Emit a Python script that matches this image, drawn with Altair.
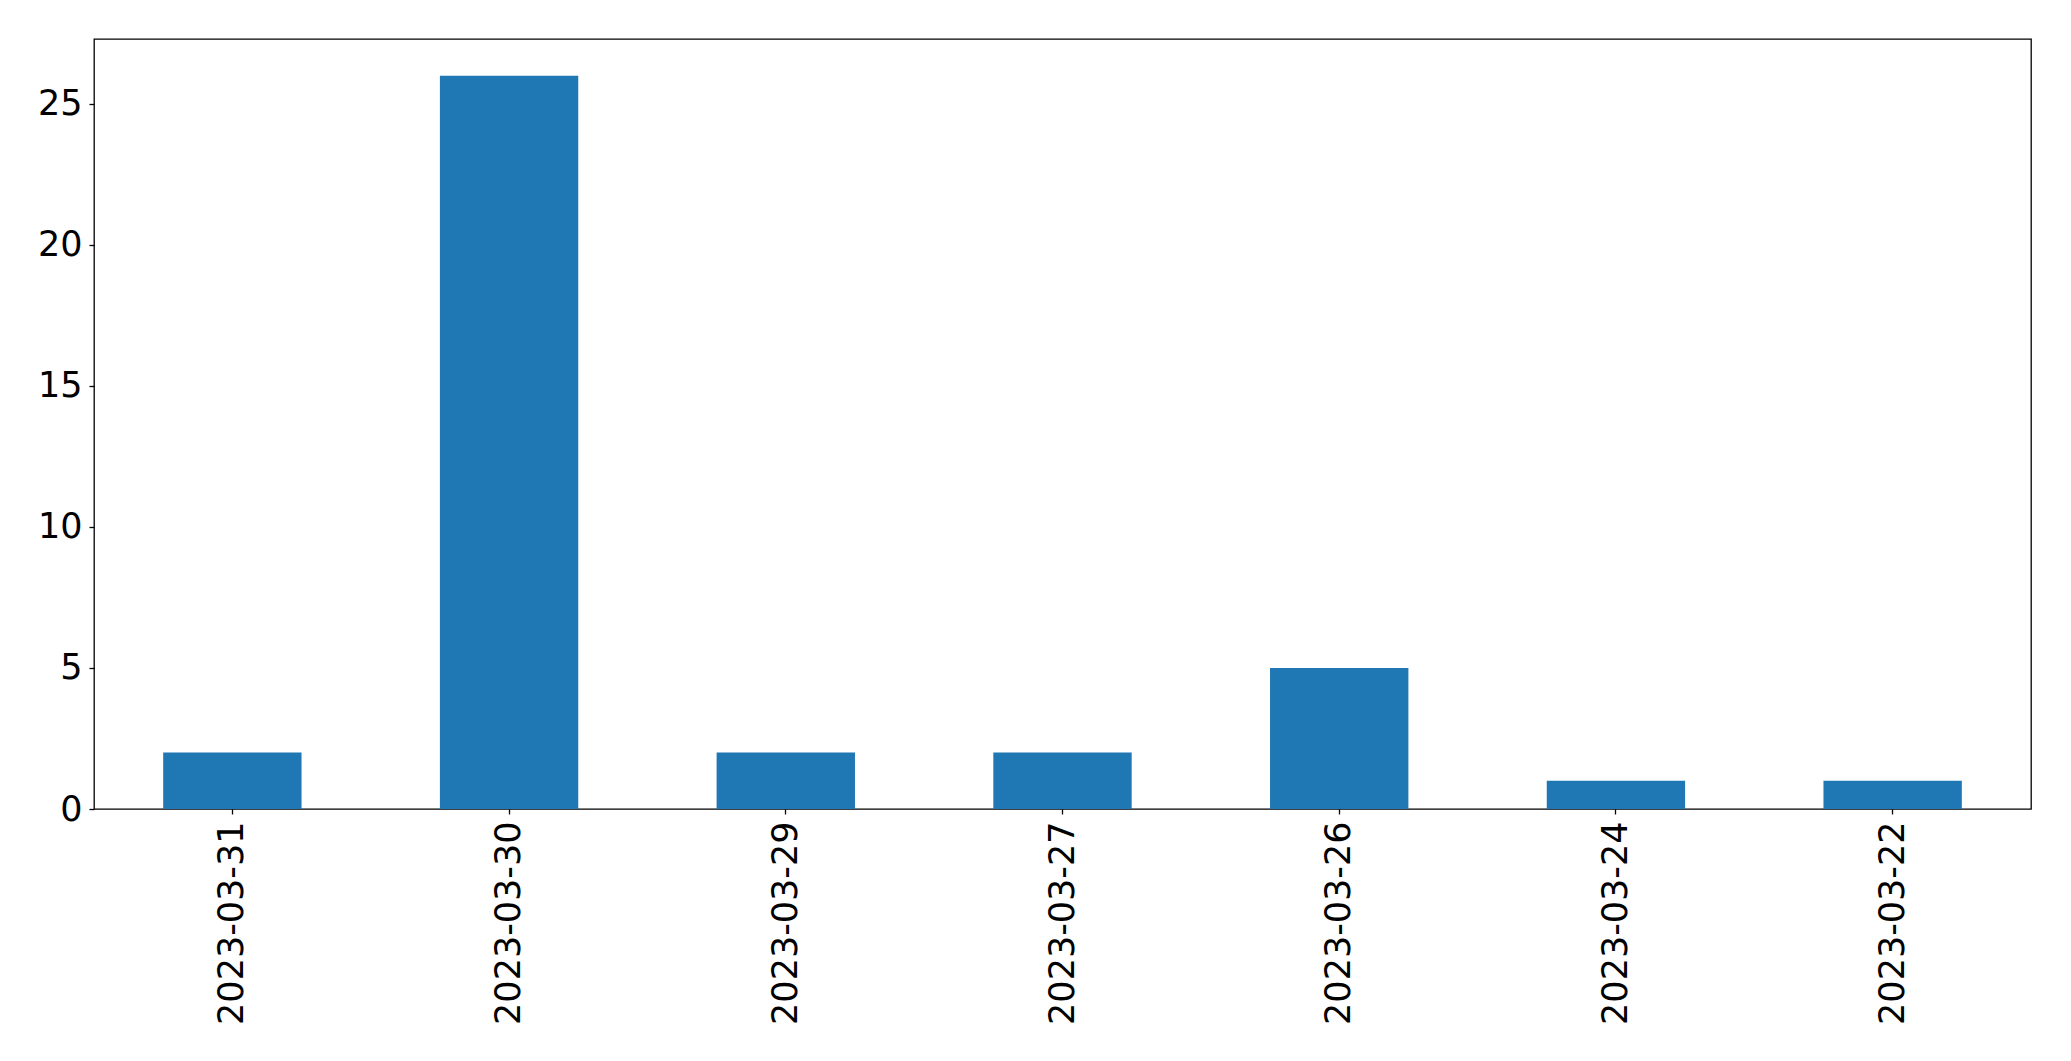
import altair as alt
import pandas as pd

dates = ["2023-03-31", "2023-03-30", "2023-03-29", "2023-03-27", "2023-03-26", "2023-03-24", "2023-03-22"]
counts = [2, 26, 2, 2, 5, 1, 1]

df = pd.DataFrame({"date": dates, "count": counts})

chart = alt.Chart(df).mark_bar(color="#1f77b4").encode(
    x=alt.X("date:N", sort=None, title=None,
            scale=alt.Scale(paddingInner=0.5, paddingOuter=0.25),
            axis=alt.Axis(labelAngle=-90, labelFont="DejaVu Sans", labelFontSize=35,
                          labelColor="black", tickColor="black", tickSize=5, tickWidth=1.3,
                          labelPadding=7, labelLimit=0, domain=False, grid=False,
                          labelBaseline="middle")),
    y=alt.Y("count:Q", title=None,
            scale=alt.Scale(domain=[0, 27.3], nice=False, zero=True),
            axis=alt.Axis(values=[0, 5, 10, 15, 20, 25], labelFont="DejaVu Sans", labelFontSize=35,
                          labelColor="black", tickColor="black", tickSize=5, tickWidth=1.3,
                          labelPadding=7, domain=False, grid=False, format="d")),
).properties(
    width=1937, height=770,
    autosize=alt.AutoSizeParams(type="none"),
    padding={"left": 86, "top": 31, "right": 20, "bottom": 230},
).configure_view(
    stroke="black", strokeWidth=1.3
)

chart.save("out.html", embed_options={"renderer": "svg", "actions": False})
